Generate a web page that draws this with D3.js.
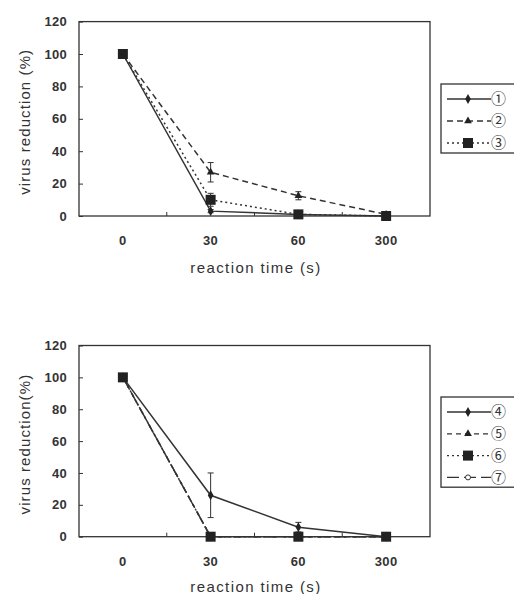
<!DOCTYPE html>
<html>
<head>
<meta charset="utf-8">
<script src="https://cdn.jsdelivr.net/npm/d3@7"></script>
<style>
body { margin: 0; background: #fff; }
svg text { font-family: "Liberation Sans", Arial, sans-serif; fill: #333; }
</style>
</head>
<body>
<div id="chart"></div>
<script>
// data
var times = ["0", "30", "60", "300"];
var yTicks = [0, 20, 40, 60, 80, 100, 120];

var s1 = [100, 3, 1, 0];
var s1err = [0, 1, 0.5, 0];
var s2 = [100, 27, 12.5, 1];
var s2err = [0, 6, 2.5, 0.5];
var s3 = [100, 10, 1, 0];
var s3err = [0, 4, 0.5, 0];

var s4 = [100, 26, 6, 0];
var s4err = [0, 14, 3, 0];
var s5 = [100, 0, 0, 0];
var s6 = [100, 0, 0, 0];
var s7 = [100, 0, 0, 0];

var topSeries = [
    {name: "①", values: s1, err: s1err, dash: null, marker: "diamond", z: 1},
    {name: "②", values: s2, err: s2err, dash: "6,4", marker: "triangle", z: 2},
    {name: "③", values: s3, err: s3err, dash: "2,3", marker: "square", z: 3}
];
var bottomSeries = [
    {name: "④", values: s4, err: s4err, dash: null, marker: "diamond", z: 1},
    {name: "⑤", values: s5, err: null, dash: "5,4", marker: "triangle", z: 2},
    {name: "⑥", values: s6, err: null, dash: "2,3", marker: "square", z: 3},
    {name: "⑦", values: s7, err: null, dash: "12,5", marker: "circle", z: 0}
];

var ink = "#333";

var svg = d3.select("#chart").append("svg")
    .attr("width", 514)
    .attr("height", 594);

function drawMarker(g, type, cx, cy) {
    if (type == "square") {
        g.append("rect").attr("x", cx - 5).attr("y", cy - 5)
            .attr("width", 10).attr("height", 10).attr("fill", "#222");
    } else if (type == "diamond") {
        g.append("path").attr("d", d3.symbol().type(d3.symbolDiamond).size(28)())
            .attr("transform", "translate(" + cx + "," + cy + ")").attr("fill", "#222");
    } else if (type == "triangle") {
        g.append("path").attr("d", d3.symbol().type(d3.symbolTriangle).size(26)())
            .attr("transform", "translate(" + cx + "," + cy + ")").attr("fill", "#222");
    } else {
        g.append("circle").attr("cx", cx).attr("cy", cy).attr("r", 2.5)
            .attr("fill", "#fff").attr("stroke", ink).attr("stroke-width", 1);
    }
}

function panel(top, bottom, series, yLabel, legendTop, rowGap, titleY) {
    var left = 79, right = 430;
    var x = d3.scaleBand().domain(times).range([left, right]);
    var y = d3.scaleLinear().domain([0, 120]).range([bottom, top]);
    var g = svg.append("g");

    // frame
    g.append("rect")
        .attr("x", left).attr("y", top)
        .attr("width", right - left).attr("height", bottom - top)
        .attr("fill", "none").attr("stroke", ink).attr("stroke-width", 1.3);

    // y axis, ticks inside
    var ya = g.append("g")
        .attr("transform", "translate(" + left + ",0)")
        .call(d3.axisRight(y).tickValues(yTicks).tickSize(4).tickFormat(""));
    ya.select(".domain").remove();
    ya.selectAll("line").attr("stroke", ink);
    g.selectAll(".ylab").data(yTicks).enter().append("text")
        .attr("x", left - 12).attr("y", function (d) { return y(d); })
        .attr("dy", "0.35em").attr("text-anchor", "end")
        .attr("font-size", 13).attr("font-weight", "bold").attr("letter-spacing", 0.3)
        .text(function (d) { return d; });

    // x axis: ticks up at category boundaries, labels centered
    var xa = g.append("g")
        .attr("transform", "translate(0," + bottom + ")")
        .call(d3.axisTop(x).tickSize(4).tickFormat(""));
    xa.select(".domain").remove();
    xa.selectAll(".tick").attr("transform", function (d) {
        return "translate(" + (x(d) + x.bandwidth()) + ",0)";
    });
    xa.selectAll(".tick").filter(function (d) { return d == "300"; }).remove();
    xa.selectAll("line").attr("stroke", ink);
    g.selectAll(".xlab").data(times).enter().append("text")
        .attr("x", function (d) { return x(d) + x.bandwidth() / 2; })
        .attr("y", bottom + 29)
        .attr("text-anchor", "middle")
        .attr("font-size", 13).attr("font-weight", "bold").attr("letter-spacing", 0.3)
        .text(function (d) { return d; });

    g.append("text")
        .attr("x", 256).attr("y", titleY)
        .attr("text-anchor", "middle")
        .attr("font-size", 15).attr("letter-spacing", 1.4)
        .text("reaction time (s)");

    g.append("text")
        .attr("transform", "translate(25," + ((top + bottom) / 2 + 3) + ") rotate(-90)")
        .attr("dy", "0.35em")
        .attr("text-anchor", "middle")
        .attr("font-size", 15).attr("letter-spacing", 1.1)
        .text(yLabel);

    var cx = function (i) { return x(times[i]) + x.bandwidth() / 2; };
    var line = d3.line()
        .x(function (d, i) { return cx(i); })
        .y(function (d) { return y(d); });

    series.forEach(function (s) {
        g.append("path")
            .attr("d", line(s.values))
            .attr("fill", "none").attr("stroke", ink).attr("stroke-width", 1.5)
            .attr("stroke-dasharray", s.dash);
        if (s.err) {
            s.values.forEach(function (v, i) {
                if (s.err[i] < 1) return;
                var px = cx(i), y1 = y(v + s.err[i]), y2 = y(v - s.err[i]);
                g.append("line").attr("x1", px).attr("x2", px).attr("y1", y1).attr("y2", y2)
                    .attr("stroke", ink).attr("stroke-width", 1);
                [y1, y2].forEach(function (yy) {
                    g.append("line").attr("x1", px - 3).attr("x2", px + 3).attr("y1", yy).attr("y2", yy)
                        .attr("stroke", ink).attr("stroke-width", 1);
                });
            });
        }
    });
    // markers, squares on top
    series.slice().sort(function (a, b) { return a.z - b.z; }).forEach(function (s) {
        s.values.forEach(function (v, i) {
            drawMarker(g, s.marker, cx(i), y(v));
        });
    });

    // legend
    var lx = 441, lh = rowGap * series.length + 3;
    g.append("rect")
        .attr("x", lx).attr("y", legendTop)
        .attr("width", 90).attr("height", lh)
        .attr("fill", "#fff").attr("stroke", ink).attr("stroke-width", 1.3);
    series.forEach(function (s, i) {
        var ry = legendTop + 15 + i * rowGap;
        g.append("line")
            .attr("x1", 447).attr("x2", 491).attr("y1", ry).attr("y2", ry)
            .attr("stroke", ink).attr("stroke-width", 1.3)
            .attr("stroke-dasharray", s.dash);
        drawMarker(g, s.marker, 468, ry);
        g.append("text")
            .attr("x", 491).attr("y", ry).attr("dy", "0.36em")
            .style("font-family", "'Noto Sans CJK JP'").style("font-size", "15px")
            .text(s.name);
    });
}

panel(21.6, 216, topSeries, "virus reduction (%)", 84, 22, 273);
panel(345.5, 536.7, bottomSeries, "virus reduction(%)", 397, 21.8, 592);
</script>
</body>
</html>
